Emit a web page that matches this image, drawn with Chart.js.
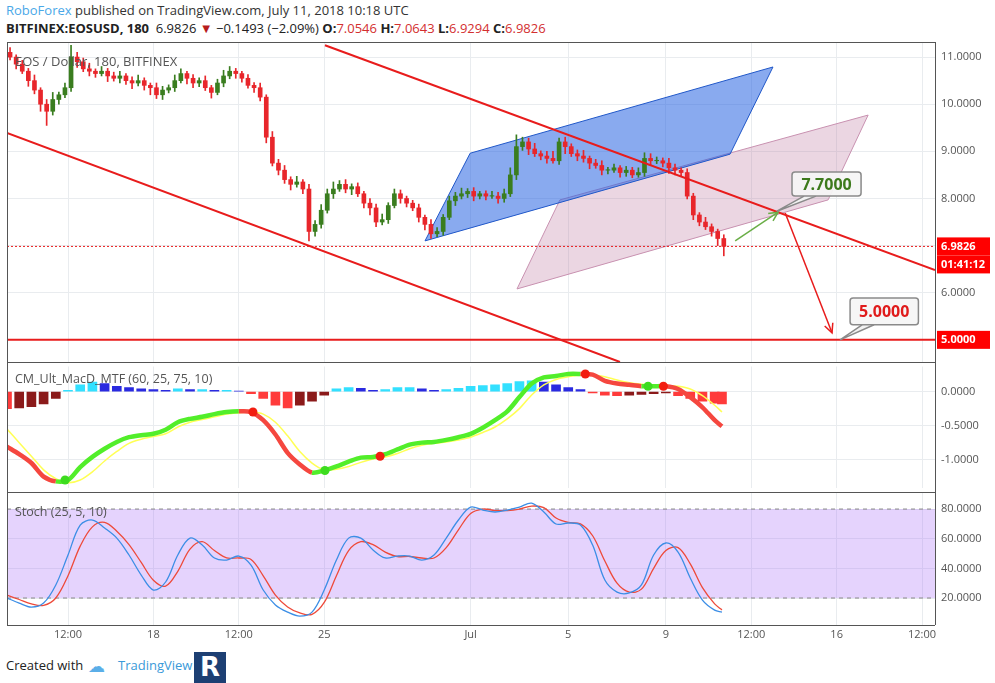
<!DOCTYPE html>
<html><head><meta charset="utf-8">
<script src="https://cdn.jsdelivr.net/npm/chart.js@4.4.0/dist/chart.umd.min.js"></script>
<style>
body{margin:0;width:995px;height:683px;background:#fff;font-family:"Open Sans",sans-serif;overflow:hidden;position:relative}
.p{position:absolute;left:0;width:995px}
.t{position:absolute;white-space:nowrap}
.hl{position:absolute;background:#555;height:1px;left:7px;width:928px}
</style></head><body>
<div class="t" style="left:6px;top:1px;font-size:13px;color:#333"><span style="color:#4aa8e8">RoboForex</span> published on TradingView.com, July 11, 2018 10:18 UTC</div>
<div class="t" style="left:6px;top:19px;font-size:13px;color:#222"><b>BITFINEX:EOSUSD, 180</b>&nbsp; 6.9826 <span style="color:#b71c1c">▼</span> −0.1493 (−2.09%) <b>O:</b><span style="color:#d32f2f">7.0546</span> <b>H:</b><span style="color:#d32f2f">7.0643</span> <b>L:</b><span style="color:#d32f2f">6.9294</span> <b>C:</b><span style="color:#d32f2f">6.9826</span></div>
<div class="p" style="top:42px;height:320px"><canvas id="c1"></canvas></div>
<div class="p" style="top:362px;height:130px"><canvas id="c2"></canvas></div>
<div class="p" style="top:492px;height:155px"><canvas id="c3"></canvas></div>
<div class="hl" style="top:42px"></div><div class="hl" style="top:362px"></div><div class="hl" style="top:492px"></div><div class="hl" style="top:625px"></div>
<div style="position:absolute;left:7px;top:42px;width:1px;height:583px;background:#555"></div>
<div style="position:absolute;left:935px;top:42px;width:1px;height:583px;background:#555"></div>
<div class="t" style="left:15px;top:52px;font-size:13px;color:#555">EOS / Dollar, 180, BITFINEX</div>
<div class="t" style="left:15px;top:370px;font-size:12.5px;color:#555">CM_Ult_MacD_MTF (60, 25, 75, 10)</div>
<div class="t" style="left:15px;top:503px;font-size:12.5px;color:#555">Stoch (25, 5, 10)</div>
<div class="t" style="left:6px;top:656px;font-size:13px;color:#222">Created with</div>
<div class="t" style="left:88px;top:654px;font-size:17px;color:#5aaee8">☁</div>
<div class="t" style="left:118px;top:656px;font-size:13px;color:#3a9ad9">TradingView</div>
<div class="t" style="left:194px;top:652px;width:32px;height:31px;background:#1d3f73;color:#fff;font:bold 26px 'DejaVu Sans';text-align:center;line-height:31px">R</div>
<script>
// ---- data ----
const candleStep = 0.25; // days per candle (6h)
const closes = [11.0,10.85,10.7,10.5,10.3,10.0,9.85,10.1,10.2,10.35,
11.0,10.9,10.75,10.7,10.65,10.7,10.6,10.55,10.6,10.5,
10.45,10.5,10.4,10.35,10.2,10.3,10.35,10.5,10.65,10.55,
10.45,10.5,10.35,10.25,10.45,10.6,10.7,10.65,10.55,10.4,
10.35,10.15,9.3,8.75,8.6,8.4,8.3,8.35,8.2,7.3,
7.45,7.75,8.1,8.2,8.3,8.2,8.25,8.1,7.9,7.8,
7.5,7.55,7.85,8.1,8.0,7.9,7.8,7.6,7.45,7.25,
7.3,7.6,7.95,8.05,8.1,8.15,8.05,8.1,8.05,8.05,
8.0,8.1,8.5,9.1,9.2,9.05,8.95,8.9,8.85,8.8,
9.2,9.1,8.95,8.9,8.85,8.75,8.7,8.6,8.6,8.65,
8.55,8.6,8.5,8.55,8.85,8.8,8.8,8.75,8.65,8.6,
8.55,8.05,7.65,7.5,7.4,7.3,7.15,6.9826];
const firstOpen = 11.1;
const wickHi = [0.10,0.05,0.08,0.06,0.12,0.05,0.10,0.15,0.06,0.10,
0.25,0.10,0.08,0.12,0.05,0.10,0.06,0.08,0.10,0.05,
0.08,0.12,0.06,0.05,0.10,0.08,0.06,0.12,0.10,0.05,
0.08,0.06,0.10,0.05,0.08,0.12,0.10,0.06,0.05,0.08,
0.06,0.10,0.05,0.12,0.08,0.10,0.06,0.12,0.05,0.10,
0.08,0.12,0.10,0.15,0.08,0.10,0.06,0.08,0.05,0.10,
0.08,0.12,0.06,0.10,0.08,0.05,0.06,0.08,0.05,0.10,
0.08,0.06,0.10,0.08,0.12,0.06,0.08,0.05,0.06,0.10,
0.08,0.10,0.15,0.25,0.10,0.08,0.12,0.06,0.10,0.15,
0.08,0.10,0.06,0.08,0.12,0.05,0.08,0.10,0.06,0.08,
0.05,0.08,0.06,0.10,0.12,0.10,0.08,0.06,0.10,0.08,
0.05,0.08,0.06,0.05,0.10,0.06,0.05,0.08];
const wickLo = [0.06,0.10,0.05,0.12,0.08,0.15,0.30,0.08,0.10,0.06,
0.08,0.12,0.06,0.10,0.08,0.05,0.12,0.06,0.10,0.08,
0.12,0.06,0.10,0.15,0.08,0.10,0.06,0.08,0.05,0.12,
0.10,0.08,0.06,0.12,0.05,0.08,0.06,0.10,0.08,0.06,
0.10,0.08,0.12,0.06,0.10,0.08,0.12,0.06,0.10,0.20,
0.10,0.08,0.06,0.10,0.05,0.08,0.12,0.06,0.10,0.15,
0.10,0.06,0.08,0.05,0.10,0.08,0.06,0.10,0.12,0.10,
0.06,0.08,0.05,0.10,0.06,0.08,0.10,0.06,0.08,0.05,
0.10,0.08,0.06,0.10,0.08,0.12,0.06,0.08,0.10,0.05,
0.08,0.15,0.06,0.10,0.08,0.12,0.06,0.10,0.08,0.05,
0.10,0.08,0.06,0.05,0.08,0.10,0.06,0.08,0.12,0.10,
0.08,0.06,0.10,0.08,0.06,0.10,0.15,0.20];
const lastPrice = 6.9826;
const targetPrice = 5.0;
// indicator samples every half day (last one at day 29.3)
const indStep = 0.5, indLastDay = 29.3;
const macdLine = [-0.81,-0.92,-1.05,-1.25,-1.32,-1.30,-1.11,-0.96,-0.84,-0.74,-0.67,-0.64,-0.62,-0.56,-0.45,-0.40,-0.37,-0.33,-0.30,-0.29,-0.30,-0.42,-0.63,-0.90,-1.07,-1.19,-1.16,-1.10,-1.03,-0.97,-0.96,-0.92,-0.85,-0.78,-0.75,-0.74,-0.71,-0.67,-0.62,-0.53,-0.42,-0.29,-0.08,0.12,0.21,0.23,0.26,0.26,0.25,0.16,0.12,0.10,0.08,0.08,0.08,0.04,-0.08,-0.23,-0.42,-0.51];
const signalLine = [-0.55,-0.75,-0.95,-1.15,-1.28,-1.34,-1.30,-1.18,-1.02,-0.88,-0.76,-0.70,-0.66,-0.62,-0.52,-0.45,-0.41,-0.37,-0.33,-0.31,-0.30,-0.33,-0.45,-0.65,-0.88,-1.05,-1.15,-1.14,-1.10,-1.04,-0.99,-0.96,-0.91,-0.84,-0.79,-0.76,-0.74,-0.71,-0.67,-0.60,-0.52,-0.40,-0.25,-0.05,0.10,0.18,0.22,0.24,0.25,0.22,0.17,0.13,0.11,0.10,0.09,0.08,0.04,-0.06,-0.20,-0.30];
const histogram = [-0.25,-0.24,-0.22,-0.18,-0.1,0.02,0.1,0.14,0.12,0.08,0.06,0.04,0.03,0.02,0.04,0.03,0.03,0.02,0.02,0.01,-0.03,-0.1,-0.2,-0.24,-0.2,-0.14,-0.05,0.04,0.06,0.05,0.02,0.03,0.06,0.06,0.04,0.02,0.03,0.05,0.08,0.09,0.1,0.12,0.15,0.16,0.14,0.1,0.06,0.03,-0.02,-0.05,-0.06,-0.05,-0.04,-0.03,-0.02,-0.06,-0.1,-0.14,-0.17,-0.18];
const crossDays = [2.38,10.08,13.03,15.29,23.7,26.27,26.9];
const crossVals = [-1.30,-0.30,-1.16,-0.95,0.26,0.08,0.08];
const crossUp = [true,false,true,false,false,true,false];
const stochK = [20.0,16.6,13.9,16.6,28.8,49.0,69.2,72.6,67.2,60.4,49.0,35.5,25.4,30.8,49.0,60.4,55.7,47.0,45.6,48.3,42.2,25.4,15.3,10.5,7.8,10.5,25.4,45.6,60.4,60.4,52.4,47.0,48.3,48.3,45.6,49.0,60.4,72.6,81.3,79.3,78.0,79.3,81.3,84.0,78.0,69.9,70.6,69.2,55.7,32.1,24.0,23.4,28.8,49.0,57.1,51.0,33.5,18.6,11.8,10.5];
const stochD = [22,19,16,15,20,35,55,68,71,65,56,44,32,28,38,53,58,52,47,47,46,35,22,14,10,9,17,35,52,58,56,51,48,48,47,47,54,66,77,80,79,79,80,82,81,74,71,70,62,45,30,24,26,40,52,54,43,27,16,12];
// time axis (days from Jun 12 00:00)
const xMin = 0, xMax = 38.03;
const tickDays = [2.5,6,9.5,13,19,23,27,30.5,34,37.5];
const tickLabels = ['12:00','18','12:00','25','Jul','5','9','12:00','16','12:00'];
const priceTicks = [6,7,8,9,10,11];
// drawing anchors [day, price]
const trendTop = [[13.03,11.25],[38.03,6.48]];
const trendLow = [[0,9.39],[25.12,4.53]];
const blueChannel = [[17.13,7.10],[18.98,8.96],[31.39,10.79],[29.63,8.94]];
const pinkChannel = [[20.90,6.08],[22.66,7.97],[35.29,9.77],[33.65,7.97]];
const greenArrow = [[29.84,7.10],[31.6,7.71]];
const redArrow = [[31.89,7.69],[33.81,5.15]];
const callouts = [{text:'7.7000',color:'#3d7a1c',at:[31.55,7.73],box:[32.17,8.56,35.0,8.05]},
                  {text:'5.0000',color:'#e01b1b',at:[34.14,5.0],box:[34.55,5.89,37.35,5.32]}];

// ---- build ----
const UP='#3a7d1f', DN='#e8262b';
const bodies=[], wicks=[], cColors=[];
closes.forEach((c,i)=>{
  const o = i===0?firstOpen:closes[i-1];
  const x = i*candleStep+candleStep/2;
  bodies.push({x, y:[o, c===o?c+0.01:c]});
  wicks.push({x, y:[Math.min(o,c)-wickLo[i], Math.max(o,c)+wickHi[i]]});
  cColors.push(c>=o?UP:DN);
});
const indX = macdLine.map((_,i)=> i<macdLine.length-1 ? i*indStep : indLastDay);
const pts = (arr)=>arr.map((v,i)=>({x:indX[i],y:v}));

function xScale(showLabels){
  return {type:'linear',min:xMin,max:xMax,offset:false,
    afterBuildTicks:s=>{s.ticks=tickDays.map(v=>({value:v}));},
    ticks:{display:showLabels,autoSkip:false,maxRotation:0,color:'#555',font:{size:11,family:'Open Sans'},
      callback:(v)=>{const k=tickDays.indexOf(v);return k>=0?tickLabels[k]:'';}},
    grid:{color:'#e9ecef',drawTicks:false,offset:false},border:{display:false},
    afterFit:s=>{s.height=showLabels?22:0;s.paddingLeft=0;s.paddingRight=0;}};
}
function yScale(min,max,ticks,fmt){
  return {type:'linear',position:'right',min,max,
    afterBuildTicks:s=>{s.ticks=ticks.map(v=>({value:v}));},
    ticks:{color:'#555',font:{size:11,family:'Open Sans'},padding:6,callback:fmt},
    grid:{color:'#e9ecef',drawTicks:false},border:{display:false},
    afterFit:s=>{s.width=60;s.paddingTop=0;s.paddingBottom=0;}};
}
const baseOpts = {responsive:true,maintainAspectRatio:false,animation:false,events:[],
  plugins:{legend:{display:false},tooltip:{enabled:false}},layout:{padding:{left:7,right:0,top:0,bottom:0}}};

function tag(ctx,area,y,text){
  ctx.fillStyle='#f00';ctx.fillRect(area.right+2,y-9,53,18);
  ctx.fillStyle='#fff';ctx.font='bold 11px "Open Sans"';ctx.textAlign='left';ctx.textBaseline='middle';
  ctx.fillText(text,area.right+6,y);
}
const drawPlugin={id:'draw',
  beforeDatasetsDraw(ch){
    const {ctx,chartArea:a,scales:{x,y}}=ch;
    const P=p=>[x.getPixelForValue(p[0]),y.getPixelForValue(p[1])];
    ctx.save();ctx.beginPath();ctx.rect(a.left,a.top,a.width,a.height);ctx.clip();
    [[pinkChannel,'rgba(190,120,160,0.3)','#c891b0'],[blueChannel,'rgba(40,100,225,0.55)','#2057c8']].forEach(([poly,f,s])=>{
      ctx.beginPath();poly.forEach((p,i)=>{const q=P(p);i?ctx.lineTo(q[0],q[1]):ctx.moveTo(q[0],q[1]);});ctx.closePath();
      ctx.fillStyle=f;ctx.fill();ctx.strokeStyle=s;ctx.lineWidth=1;ctx.stroke();});
    ctx.restore();
  },
  afterDatasetsDraw(ch){
    const {ctx,chartArea:a,scales:{x,y}}=ch;
    const P=p=>[x.getPixelForValue(p[0]),y.getPixelForValue(p[1])];
    ctx.save();ctx.beginPath();ctx.rect(a.left,a.top,a.width,a.height);ctx.clip();
    const line=(l,c,w)=>{const p0=P(l[0]),p1=P(l[1]);ctx.beginPath();ctx.moveTo(p0[0],p0[1]);ctx.lineTo(p1[0],p1[1]);ctx.strokeStyle=c;ctx.lineWidth=w;ctx.stroke();return [p0,p1];};
    line(trendTop,'#e81c1c',2);line(trendLow,'#e81c1c',2);
    const yt=y.getPixelForValue(targetPrice);
    ctx.beginPath();ctx.moveTo(a.left,yt);ctx.lineTo(a.right,yt);ctx.strokeStyle='#e81c1c';ctx.lineWidth=2;ctx.stroke();
    const yl=y.getPixelForValue(lastPrice);
    ctx.setLineDash([2,2]);ctx.beginPath();ctx.moveTo(a.left,yl);ctx.lineTo(a.right,yl);ctx.strokeStyle='#e81c1c';ctx.lineWidth=1;ctx.stroke();ctx.setLineDash([]);
    const arrow=(l,c)=>{const [p0,p1]=line(l,c,1.5);const ang=Math.atan2(p1[1]-p0[1],p1[0]-p0[0]);
      ctx.beginPath();ctx.moveTo(p1[0]-10*Math.cos(ang-0.45),p1[1]-10*Math.sin(ang-0.45));ctx.lineTo(p1[0],p1[1]);
      ctx.lineTo(p1[0]-10*Math.cos(ang+0.45),p1[1]-10*Math.sin(ang+0.45));ctx.stroke();};
    arrow(greenArrow,'#6aae47');arrow(redArrow,'#e81c1c');
    ctx.restore();
    callouts.forEach(c=>{
      const [ax,ay]=P(c.at);const x0=x.getPixelForValue(c.box[0]),y0=y.getPixelForValue(c.box[1]),x1=x.getPixelForValue(c.box[2]),y1=y.getPixelForValue(c.box[3]);
      ctx.beginPath();ctx.moveTo(x0+12,y1);ctx.lineTo(ax,ay);ctx.lineTo(x0+24,y1);ctx.fillStyle='#f2f2f2';ctx.fill();ctx.strokeStyle='#8a8a8a';ctx.lineWidth=1.5;ctx.stroke();
      ctx.beginPath();ctx.roundRect(x0,y0,x1-x0,y1-y0,3);ctx.fillStyle='rgba(245,245,245,0.95)';ctx.fill();ctx.stroke();
      ctx.fillStyle=c.color;ctx.font='bold 16px "Open Sans"';ctx.textAlign='center';ctx.textBaseline='middle';ctx.fillText(c.text,(x0+x1)/2,(y0+y1)/2+1);
    });
    tag(ctx,a,yl,lastPrice.toFixed(4));tag(ctx,a,yl+18,'01:41:12');tag(ctx,a,yt,targetPrice.toFixed(4));
  }};

new Chart(document.getElementById('c1'),{type:'bar',
  data:{datasets:[
    {data:wicks,backgroundColor:cColors,barThickness:1,grouped:false,order:2},
    {data:bodies,backgroundColor:cColors,barThickness:4,grouped:false,order:1}]},
  options:{...baseOpts,scales:{x:xScale(false),y:yScale(4.53,11.32,priceTicks,v=>v===5?'':v.toFixed(4))}},
  plugins:[drawPlugin]});

const GREEN='#52ee2a', RED='#f5473f';
new Chart(document.getElementById('c2'),{type:'bar',
  data:{datasets:[
    {type:'scatter',data:crossDays.map((d,i)=>({x:d,y:crossVals[i]})),pointRadius:4.5,pointBackgroundColor:crossUp.map(u=>u?'#3ddc1f':'#f21d10'),pointBorderWidth:0,order:0},
    {type:'line',data:pts(macdLine),borderWidth:4.5,pointRadius:0,tension:0.3,borderColor:GREEN,
      segment:{borderColor:c=>c.p1.parsed.y>=c.p0.parsed.y?GREEN:RED},order:1},
    {type:'line',data:pts(signalLine),borderWidth:1.5,pointRadius:0,tension:0.3,borderColor:'#ffff55',order:2},
    {data:pts(histogram),grouped:false,barThickness:9,order:3,
      backgroundColor:histogram.map((v,i)=>{const p=i?histogram[i-1]:v;return v>=0?(v>=p?'#33e0ff':'#2a2ae0'):(v<=p?'#ff3b3b':'#8b1a1a');})}]},
  options:{...baseOpts,scales:{x:xScale(false),y:yScale(-1.41,0.37,[0,-0.5,-1],v=>v.toFixed(4))}}});

const bandPlugin={id:'band',beforeDatasetsDraw(ch){const {ctx,chartArea:a,scales:{y}}=ch;
  const y80=y.getPixelForValue(80),y20=y.getPixelForValue(20);
  ctx.save();ctx.fillStyle='rgba(170,110,250,0.3)';ctx.fillRect(a.left,y80,a.width,y20-y80);
  ctx.setLineDash([4,4]);ctx.strokeStyle='#888';ctx.lineWidth=1;
  [y80,y20].forEach(v=>{ctx.beginPath();ctx.moveTo(a.left,v);ctx.lineTo(a.right,v);ctx.stroke();});ctx.restore();}};
new Chart(document.getElementById('c3'),{type:'line',
  data:{datasets:[
    {data:pts(stochK),borderColor:'#3c8ee6',borderWidth:1.3,pointRadius:0,tension:0.35},
    {data:pts(stochD),borderColor:'#ee4a3a',borderWidth:1.3,pointRadius:0,tension:0.35}]},
  options:{...baseOpts,scales:{x:xScale(true),y:yScale(1.8,91.5,[20,40,60,80],v=>v.toFixed(4))}},
  plugins:[bandPlugin]});
</script></body></html>
